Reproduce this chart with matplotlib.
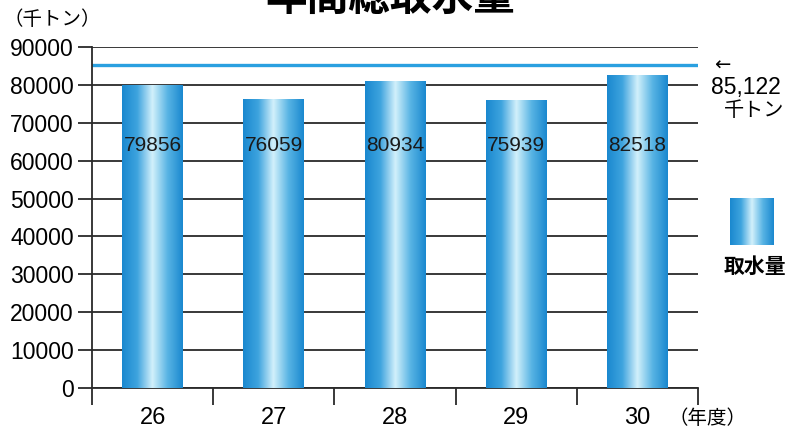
import numpy as np
import matplotlib.pyplot as plt
from matplotlib.colors import LinearSegmentedColormap

plt.rcParams['font.family'] = ['Liberation Sans', 'Noto Sans CJK JP', 'DejaVu Sans']

years = ['26', '27', '28', '29', '30']
intake = [79856, 76059, 80934, 75939, 82518]
limit = 85122
yticks = [0, 10000, 20000, 30000, 40000, 50000, 60000, 70000, 80000, 90000]

bar_cmap = LinearSegmentedColormap.from_list(
    'bar', ['#1a88cf', '#3ea4de', '#d2f0fb', '#58b4e4', '#1a88cf'])
grad = np.linspace(0, 1, 256).reshape(1, -1)

fig = plt.figure(figsize=(7.89, 4.33), dpi=100)
ax = fig.add_axes([0.1166, 0.1039, 0.768, 0.7876])

x = np.arange(len(years))
w = 0.5
for xi, v in zip(x, intake):
    ax.imshow(grad, cmap=bar_cmap, aspect='auto', extent=(xi - w / 2, xi + w / 2, 0, v), zorder=3)
    ax.text(xi, 64000, str(v), ha='center', va='center', fontsize=15,
            color='#1a1a1a', zorder=4)

ax.axhline(limit, color='#2aa0e0', lw=2.4, zorder=2)

ax.set_xlim(-0.5, len(years) - 0.5)
ax.set_ylim(0, 90000)
ax.set_yticks(yticks)
ax.set_yticklabels([str(t) for t in yticks], fontsize=16.5)
ax.yaxis.grid(True, color='#2a2a2a', lw=1.3, zorder=1)
ax.tick_params(axis='y', length=10, width=1.3, color='#2a2a2a', pad=3)

ax.set_xticks(x)
ax.set_xticklabels(years, fontsize=17)
ax.set_xticks(np.arange(len(years) + 1) - 0.5, minor=True)
ax.tick_params(axis='x', which='major', length=0, pad=14)
ax.tick_params(axis='x', which='minor', length=12, width=1.3, color='#2a2a2a')

for s in ['top', 'right']:
    ax.spines[s].set_visible(False)
for s in ['left', 'bottom']:
    ax.spines[s].set_color('#2a2a2a')
    ax.spines[s].set_linewidth(1.3)

fig.text(0.495, 1.005, '年間総取水量', ha='center', va='center', fontsize=30, fontweight='bold',
         family=['Noto Sans CJK JP'])
fig.text(0.004, 0.955, '（千トン）', ha='left', va='center', fontsize=14, family=['Noto Sans CJK JP'])
fig.text(0.847, 0.033, '（年度）', ha='left', va='center', fontsize=14, family=['Noto Sans CJK JP'])

fig.text(0.905, 0.85, '←', ha='left', va='center', fontsize=14, family=['DejaVu Sans'])
fig.text(0.901, 0.797, '85,122', ha='left', va='center', fontsize=16.5)
fig.text(0.917, 0.745, '千トン', ha='left', va='center', fontsize=14.5, family=['Noto Sans CJK JP'])

lax = fig.add_axes([0.925, 0.435, 0.055, 0.108])
lax.imshow(grad, cmap=bar_cmap, aspect='auto')
lax.axis('off')
fig.text(0.957, 0.385, '取水量', ha='center', va='center', fontsize=15, fontweight='bold',
         family=['Noto Sans CJK JP'])

fig.savefig('out.png', dpi=100)
